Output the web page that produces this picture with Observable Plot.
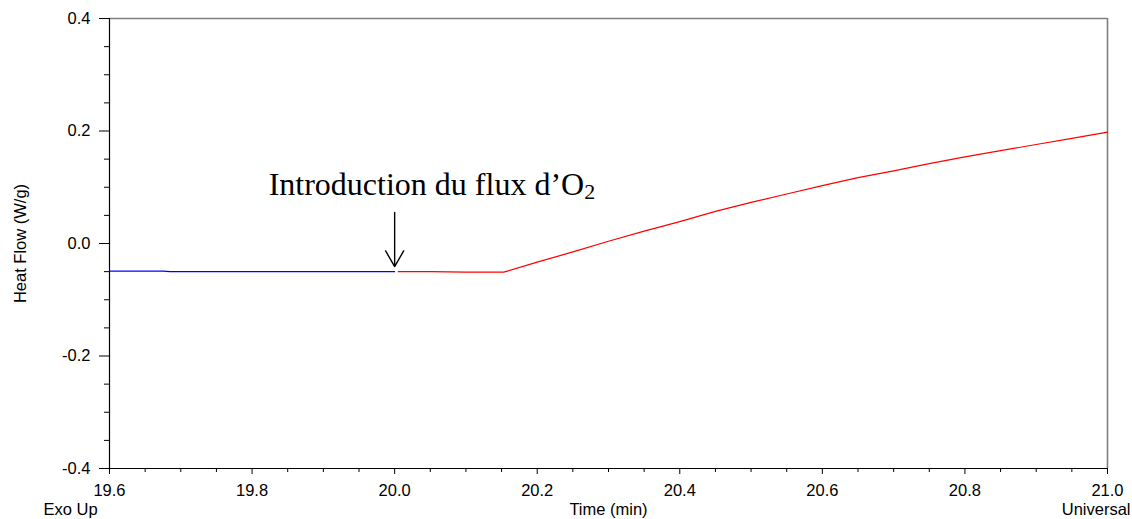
<!DOCTYPE html>
<html>
<head>
<meta charset="utf-8">
<script src="https://cdn.jsdelivr.net/npm/d3@7"></script>
<script src="https://cdn.jsdelivr.net/npm/@observablehq/plot@0.6"></script>
<style>
  html, body { margin: 0; padding: 0; background: #fff; }
  #chart svg { display: block; }
</style>
</head>
<body>
<div id="chart"></div>
<script>
// Blue segment (before O2 introduction)
const blueTime = [19.6, 19.675, 19.685, 19.8, 19.9, 20.0];
const blueHeat = [-0.049, -0.049, -0.050, -0.050, -0.050, -0.050];
// Red segment (after O2 introduction)
const redTime = [20.005, 20.05, 20.10, 20.153, 20.2, 20.25, 20.3, 20.35, 20.4, 20.45, 20.5, 20.55, 20.6, 20.65, 20.7, 20.75, 20.8, 20.85, 20.9, 20.95, 21.0];
const redHeat = [-0.050, -0.050, -0.051, -0.051, -0.033, -0.015, 0.004, 0.022, 0.039, 0.057, 0.073, 0.088, 0.103, 0.117, 0.129, 0.142, 0.154, 0.165, 0.176, 0.187, 0.198];
// Ticks
const xTicks = [19.6, 19.8, 20.0, 20.2, 20.4, 20.6, 20.8, 21.0];
const yTicks = [-0.4, -0.2, 0.0, 0.2, 0.4];
const xMinorTicks = [19.65, 19.7, 19.75, 19.85, 19.9, 19.95, 20.05, 20.1, 20.15, 20.25, 20.3, 20.35, 20.45, 20.5, 20.55, 20.65, 20.7, 20.75, 20.85, 20.9, 20.95];
const yMinorTicks = [-0.35, -0.3, -0.25, -0.15, -0.1, -0.05, 0.05, 0.1, 0.15, 0.25, 0.3, 0.35];
// Texts
const xLabel = "Time (min)";
const yLabel = "Heat Flow (W/g)";
const leftNote = "Exo Up";
const rightNote = "Universal";
const annotationText = "Introduction du flux d\u2019O";
const annotationSub = "2";
const annotationX = 20.0;

const blue = blueTime.map((t, i) => ({t, h: blueHeat[i]}));
const red = redTime.map((t, i) => ({t, h: redHeat[i]}));
const fmt = d => d.toFixed(1);
const FS = 16.5;

const chart = Plot.plot({
  width: 1132,
  height: 519,
  marginLeft: 109,
  marginRight: 25,
  marginTop: 18,
  marginBottom: 51,
  style: {background: "#fff", fontFamily: "'Liberation Sans', Arial, sans-serif", color: "#000"},
  x: {domain: [19.6, 21.0]},
  y: {domain: [-0.4, 0.4]},
  marks: [
    Plot.ruleY([0.4], {stroke: "#808080", strokeWidth: 1.6}),
    Plot.ruleX([21.0], {stroke: "#808080", strokeWidth: 1.6}),
    Plot.axisY({ticks: yMinorTicks, tickSize: 5, tickFormat: () => "", label: null, stroke: "#000"}),
    Plot.axisY({ticks: yTicks, tickSize: 10, tickPadding: 9, tickFormat: fmt, fontSize: FS, label: null, stroke: "#000"}),
    Plot.axisX({ticks: xMinorTicks, tickSize: 4, tickFormat: () => "", label: null, stroke: "#000"}),
    Plot.axisX({ticks: xTicks, tickSize: 6, tickPadding: 10, tickFormat: fmt, fontSize: FS, label: null, stroke: "#000"}),
    Plot.ruleX([19.6], {stroke: "#000", strokeWidth: 1.2}),
    Plot.ruleY([-0.4], {stroke: "#000", strokeWidth: 1.2}),
    Plot.line(blue, {x: "t", y: "h", stroke: "#0000ff", strokeWidth: 1.2}),
    Plot.line(red, {x: "t", y: "h", stroke: "#ff0000", strokeWidth: 1.2}),
    Plot.arrow([{x: annotationX}], {x1: "x", x2: "x", y1: () => 0.0554, y2: () => -0.041, stroke: "#000", strokeWidth: 1.4, headLength: 20, headAngle: 60}),
    Plot.text([annotationText], {x: () => annotationX, y: () => 0.104, text: d => d, textAnchor: "start", dx: -126, fontSize: 32, fontFamily: "'Liberation Serif', 'Times New Roman', serif", fill: "#000", className: "annot"}),
    Plot.text([xLabel], {frameAnchor: "bottom", textAnchor: "middle", dy: 46, text: d => d, fontSize: FS, fill: "#000"}),
    Plot.text([leftNote], {frameAnchor: "bottom-left", textAnchor: "start", dx: -66, dy: 46, text: d => d, fontSize: FS, fill: "#000"}),
    Plot.text([rightNote], {frameAnchor: "bottom-right", textAnchor: "end", dx: 23, dy: 46, text: d => d, fontSize: FS, fill: "#000"}),
    Plot.text([yLabel], {frameAnchor: "left", textAnchor: "middle", rotate: -90, dx: -89, text: d => d, fontSize: FS, fill: "#000"})
  ]
});
document.getElementById("chart").appendChild(chart);

// Add subscript "2" to the annotation
const annot = chart.querySelector("g.annot text");
if (annot) {
  const ns = "http://www.w3.org/2000/svg";
  const sub = document.createElementNS(ns, "tspan");
  sub.setAttribute("font-size", "22");
  sub.setAttribute("dy", "4");
  sub.textContent = annotationSub;
  annot.appendChild(sub);
}
</script>
</body>
</html>
